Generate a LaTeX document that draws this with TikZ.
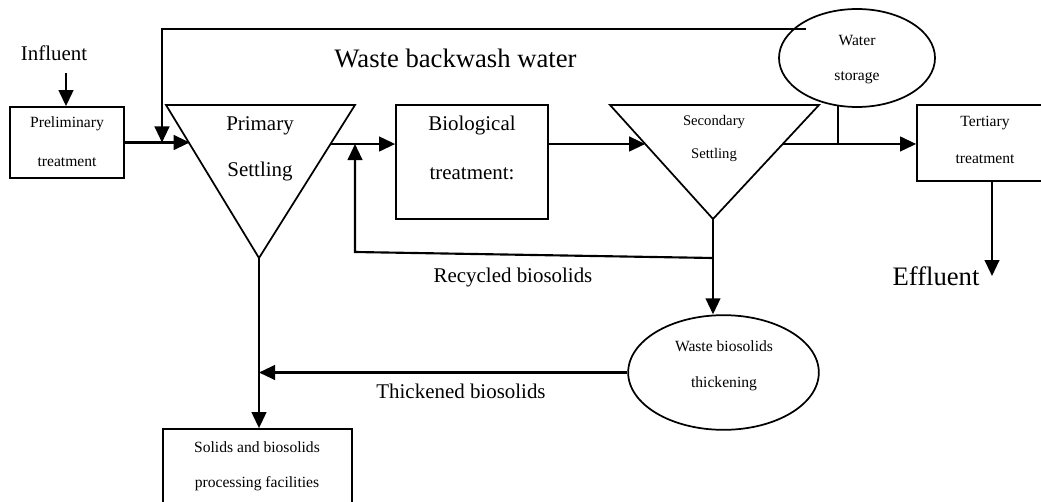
\documentclass[tikz,border=0pt]{standalone}
\usepackage{fontspec}
\setmainfont{Liberation Serif}
\usetikzlibrary{arrows.meta,calc,fit,shapes.geometric}
\begin{document}
\begin{tikzpicture}[x=0.75pt,y=-0.75pt,
  line width=1.6pt,
  arr/.style={-{Triangle[length=12pt,width=11pt]}},
  boxn/.style={draw,line width=1.3pt,inner sep=0pt,rectangle},
  elln/.style={draw,line width=1.3pt,inner sep=0pt,ellipse},
  tri/.style={line width=1.3pt,line join=miter},
  tbig/.style={font=\fontsize{20}{24}\selectfont,inner sep=0pt},
  tmed/.style={font=\fontsize{15.7}{19}\selectfont,inner sep=0pt},
  tsml/.style={font=\fontsize{11.7}{14}\selectfont,inner sep=0pt},
  tsec/.style={font=\fontsize{11}{13}\selectfont,inner sep=0pt}]
\useasboundingbox (0,0) rectangle (1041,502);
% boxes
\node[boxn,fit={(10,107) (124,178)}] (pre) {};
\node[boxn,fit={(396,105) (548,219)}] (bio) {};
\node[boxn,fit={(917,105) (1055,181)}] (ter) {};
\node[boxn,fit={(163,429) (352,520)}] (sol) {};
% ellipses
\node[elln,minimum width=117pt,minimum height=73.5pt] (ws) at (857,58) {};
\node[elln,minimum width=143pt,minimum height=86pt] (wbt) at (723.5,372.5) {};
% triangles
\coordinate (PA) at (166,105); \coordinate (PB) at (355,105); \coordinate (PC) at (259,258);
\coordinate (SA) at (610,105); \coordinate (SB) at (819,105); \coordinate (SC) at (713,219);
\draw[tri] (PA) -- (PB) -- (PC) -- cycle;
\draw[tri] (SA) -- (SB) -- (SC) -- cycle;
\coordinate (Pin) at ($(PA)!0.255!(PC)$);
\coordinate (Pout) at ($(PB)!0.255!(PC)$);
\coordinate (Sin) at ($(SA)!0.342!(SC)$);
\coordinate (Sout) at ($(SB)!0.342!(SC)$);
% texts
\node[tmed] (inf) at (54,53) {Influent};
\node[tbig] (bwt) at (455.5,58) {Waste backwash water};
\node[tsml] (pre1) at (67,124) {Preliminary};
\node[tsml] (pre2) at (67,162) {treatment};
\node[tmed] (pri1) at (260,126) {Primary};
\node[tmed] (pri2) at (260,171) {Settling};
\node[tmed] (bio1) at (472,125) {Biological};
\node[tmed] (bio2) at (472,174) {treatment:};
\node[tsec] (sec1) at (714,122) {Secondary};
\node[tsec] (sec2) at (714,155) {Settling};
\node[tsml] (ws1) at (857,41) {Water};
\node[tsml] (ws2) at (857,78) {storage};
\node[tsml] (ter1) at (985,123) {Tertiary};
\node[tsml] (ter2) at (985,159) {treatment};
\node[tbig] (eff) at (936,276) {Effluent};
\node[tmed] (rec) at (513,277) {Recycled biosolids};
\node[tmed] (thk) at (461,391) {Thickened biosolids};
\node[tsml] (wbt1) at (724,346) {Waste biosolids};
\node[tsml] (wbt2) at (724,384) {thickening};
\node[tsml] (sol1) at (257,447) {Solids and biosolids};
\node[tsml] (sol2) at (257,484) {processing facilities};
% connectors
\coordinate (i0) at (66,73);
\draw[arr] (i0) -- (i0 |- pre.north);
\draw[arr] (pre.east) -- (pre.east -| Pin);
\coordinate (bw0) at (806,29);
\coordinate (bw1) at (162,29);
\draw[arr] (bw0) -- (bw1) -- (bw1 |- pre.east);
\draw[arr] (Pout) -- (Pout -| bio.west);
\draw[arr] (bio.east |- Sin) -- (Sin);
\draw[arr] (Sout) -- (Sout -| ter.west);
\coordinate (wsd) at (838,106);
\draw (wsd) -- (wsd |- Sout);
\draw[arr] (SC) -- (SC |- wbt.north);
\coordinate (rb0) at (713,258);
\coordinate (rb1) at (355,252);
\draw[arr] (rb0) -- (rb1) -- (rb1 |- Pout);
\draw[arr] (wbt.west) -- (PC |- wbt.west);
\draw[arr] (PC) -- (PC |- sol.north);
\coordinate (ef) at (992,276);
\draw[arr] (ter.south -| ef) -- (ef);
\end{tikzpicture}
\end{document}
